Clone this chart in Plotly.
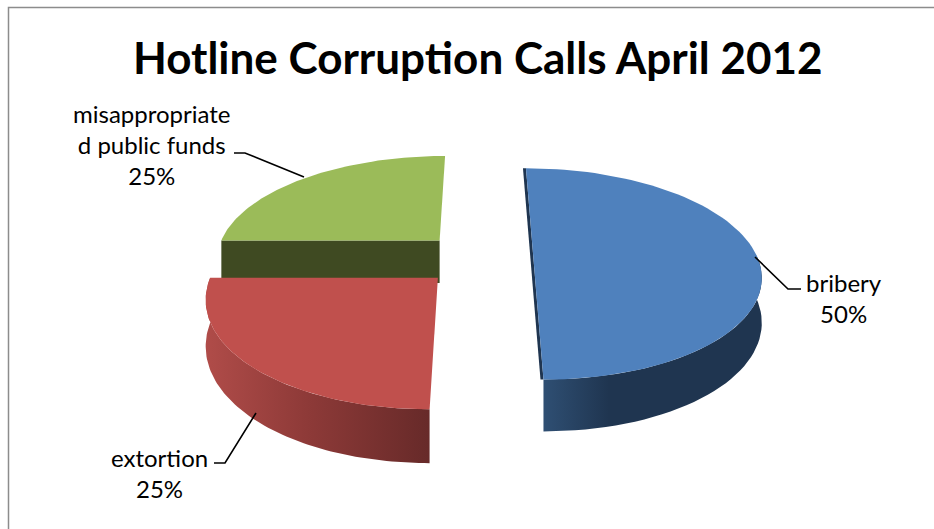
import numpy as np
import plotly.graph_objects as go

# Data
categories = ["bribery", "extortion", "misappropriated public funds"]
shares = [50, 25, 25]
label_lines = ["bribery<br>50%", "extortion<br>25%", "misappropriate<br>d public funds<br>25%"]
title_text = "Hotline Corruption Calls April 2012"

# Styles / projection of the tilted disc
top_colors = ["#4F81BD", "#C0504D", "#9BBB59"]
side_scales = [
    [[0, "#2F4F73"], [0.3, "#1F3550"], [1, "#1F3550"]],
    [[0, "#B04C49"], [0.45, "#8E3A38"], [1, "#672A29"]],
    [[0, "#3F4A22"], [1, "#3F4A22"]],
]
explode = [(0.238, 0.0), (-0.182, 0.196), (-0.185, -0.164)]
width_scale = [1.0, 0.985, 1.0]
X0, YC, A, B, C, H = 480.0, 257.0, 224.0, 103.0, 0.16, 43.5
start_deg = 0.0


def project(u, v, depth=0.0):
    w = 1.0 / (1.0 - C * v)
    return X0 + A * u * w, YC + B * v * w + depth * w


def wedge(start, stop, ox, oy, k, n=80):
    t = np.radians(np.linspace(start, stop, n))
    return ox + k * np.sin(t), oy - np.cos(t)


fig = go.Figure()
spans = []
acc = start_deg
total = sum(shares)
for s in shares:
    spans.append((acc, acc + 360.0 * s / total))
    acc += 360.0 * s / total


def add(x, y, color=None, grad=None):
    kw = dict(x=np.asarray(x), y=np.asarray(y), mode="lines", fill="toself",
              line=dict(width=0), hoverinfo="skip", showlegend=False)
    if grad is not None:
        kw["fillgradient"] = dict(type="horizontal", colorscale=grad)
    else:
        kw["fillcolor"] = color
    fig.add_trace(go.Scatter(**kw))


# draw far slice first: misappropriated, then bribery, then extortion
for i in [2, 0, 1]:
    a, b = spans[i]
    ox, oy = explode[i]
    k = width_scale[i]
    u, v = wedge(a, b, ox, oy, k)
    if i == 2:
        # flat front cut face of the far slice
        uf = np.array([ox - k, ox, ox, ox - k])
        vf = np.array([oy, oy, oy, oy])
        d = np.array([0.0, 0.0, H, H])
        sx, sy = project(uf, vf, d)
        add(sx, sy, grad=side_scales[2])
    else:
        # visible rim, front half only
        keep = np.cos(np.radians(np.linspace(a, b, 80))) <= 0.02
        ur, vr = u[keep], v[keep]
        x1, y1 = project(ur, vr)
        x2, y2 = project(ur[::-1], vr[::-1], H)
        add(np.r_[x1, x2], np.r_[y1, y2], grad=side_scales[i])
    if i == 0:
        # thin cut face showing at the straight edge of the half disc
        sx, sy = project(np.array([ox, ox]), np.array([oy - 1, oy + 1]))
        add(np.r_[sx - 3, sx[::-1]], np.r_[sy, sy[::-1]], color="#1F3550")
    # top
    tu = np.r_[ox, u] if b - a < 180 else u
    tv = np.r_[oy, v] if b - a < 180 else v
    sx, sy = project(tu, tv)
    add(sx, sy, color=top_colors[i])

# Leader lines
leaders = [
    ([755, 788, 801], [257, 289, 289]),
    ([256, 225, 214], [413, 463, 463]),
    ([304, 245, 234], [177, 153, 153]),
]
for lx, ly in leaders:
    fig.add_trace(go.Scatter(x=lx, y=ly, mode="lines", line=dict(color="black", width=1.6),
                             hoverinfo="skip", showlegend=False))

label_pos = [(844, 298), (159, 473), (152, 144)]
for (x, y), t in zip(label_pos, label_lines):
    fig.add_annotation(x=x, y=y, text=t, showarrow=False, xanchor="center", yanchor="middle",
                       font=dict(family="Lato", size=24, color="black"), align="center")
fig.add_annotation(x=478, y=57, text="<b>%s</b>" % title_text, showarrow=False,
                   xanchor="center", yanchor="middle",
                   font=dict(family="Lato", size=44, color="black"))

fig.update_layout(
    width=934, height=529, autosize=False,
    margin=dict(l=0, r=0, t=0, b=0),
    paper_bgcolor="white", plot_bgcolor="white", showlegend=False,
    xaxis=dict(range=[0, 934], visible=False, fixedrange=True),
    yaxis=dict(range=[529, 0], visible=False, fixedrange=True),
    shapes=[dict(type="rect", xref="paper", yref="paper", x0=8.5 / 934, x1=1.2,
                 y0=-0.2, y1=1 - 7.5 / 529, line=dict(color="#8C8C8C", width=1.5),
                 layer="below")],
)
fig.write_html("out.html", config=dict(displayModeBar=False),
               post_script="document.body.style.margin='0';document.documentElement.style.overflow='hidden';")
